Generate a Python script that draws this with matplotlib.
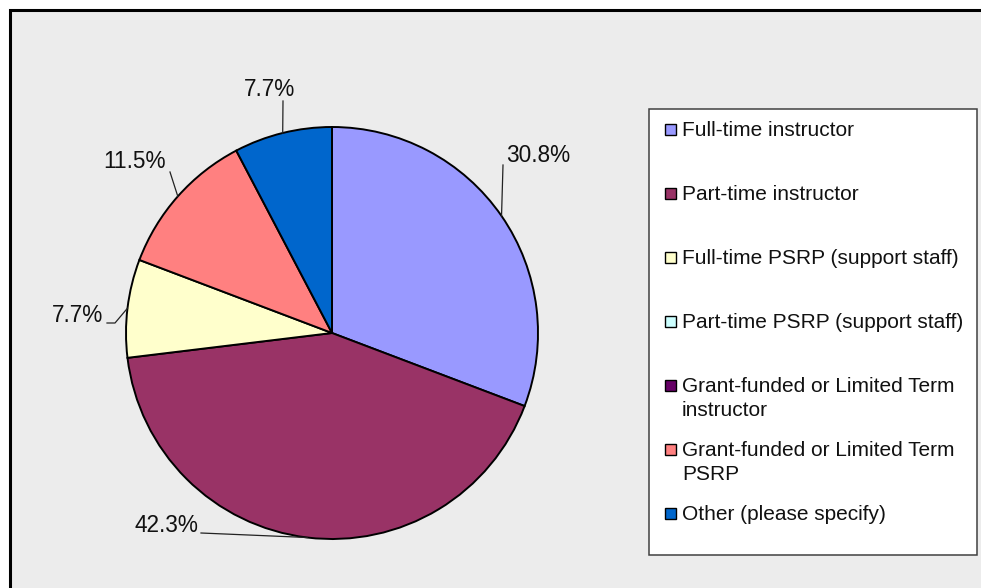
import numpy as np
import matplotlib.pyplot as plt
from matplotlib.patches import Rectangle

# survey answers (counts) (n = 26)
categories = ["Full-time instructor",
              "Part-time instructor",
              "Full-time PSRP (support staff)",
              "Part-time PSRP (support staff)",
              "Grant-funded or Limited Term\ninstructor",
              "Grant-funded or Limited Term\nPSRP",
              "Other (please specify)"]
counts = [8, 11, 2, 0, 0, 3, 2]
colors = ["#9999FF", "#993366", "#FFFFCC", "#CCFFFF", "#660066", "#FF8080", "#0066CC"]

# where each percentage label sits (image pixels) and where its leader line bends
label_pos = {0: (506, 156, "left", [(503, 165)]),
             1: (198, 525, "right", [(201, 533)]),
             2: (103, 315, "right", [(107, 323), (115, 323)]),
             5: (166, 161, "right", [(170, 172)]),
             6: (295, 89, "right", [(283, 101)])}

plt.rcParams["font.family"] = ["Liberation Sans", "DejaVu Sans"]

fig = plt.figure(figsize=(9.81, 5.88), dpi=100)
fig.patch.set_facecolor("white")
ax = fig.add_axes([0, 0, 1, 1])
ax.set_xlim(0, 981)
ax.set_ylim(588, 0)
ax.axis("off")

ax.add_patch(Rectangle((9.5, 9.5), 1000, 600, facecolor="#ECECEC",
                       edgecolor="black", linewidth=2.2, zorder=0))

cx, cy, r = 332, 333, 206
keep = [i for i, c in enumerate(counts) if c > 0]
wedges, _ = ax.pie([counts[i] for i in keep], colors=[colors[i] for i in keep],
                   startangle=-90, counterclock=True, center=(cx, cy), radius=r,
                   wedgeprops=dict(edgecolor="black", linewidth=1.4))
ax.set_xlim(0, 981)
ax.set_ylim(588, 0)
ax.set_aspect("equal")

total = sum(counts)
for w, i in zip(wedges, keep):
    mid = np.deg2rad((w.theta1 + w.theta2) / 2)
    ex, ey = cx + r * np.cos(mid), cy + r * np.sin(mid)
    tx, ty, ha, bends = label_pos[i]
    pts = [(ex, ey)] + bends[::-1]
    ax.plot([p[0] for p in pts], [p[1] for p in pts], color="#222222", lw=0.9, zorder=3)
    ax.text(tx, ty, f"{counts[i] / total * 100:.1f}%", ha=ha, va="center",
            fontsize=16.3, color="#111111")

# legend box drawn by hand to get the spacing of the original
ax.add_patch(Rectangle((649, 109), 328, 446, facecolor="white",
                       edgecolor="#404040", linewidth=1.1, zorder=2))
for k, (name, col) in enumerate(zip(categories, colors)):
    y = 129 + 64 * k
    ax.add_patch(Rectangle((665, y - 5.5), 11, 11, facecolor=col,
                           edgecolor="black", linewidth=1.0, zorder=3))
    for j, line in enumerate(name.split("\n")):
        ax.text(682, y + 7.5 + 23 * j, line, ha="left", va="baseline",
                fontsize=15, color="#111111", zorder=3)

fig.savefig("out.png", dpi=100)
